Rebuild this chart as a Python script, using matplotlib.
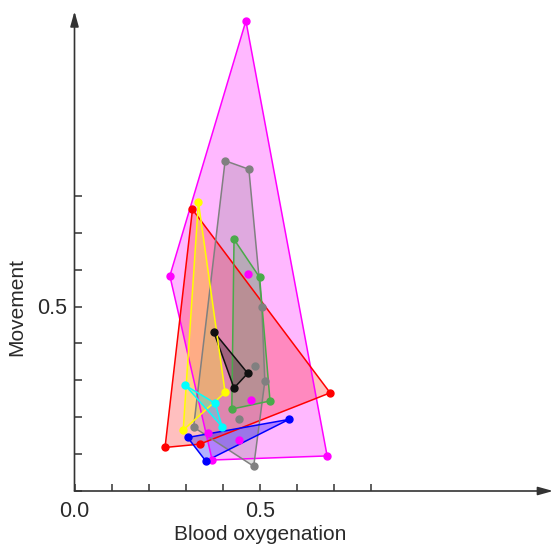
import numpy as np
import matplotlib
matplotlib.use('Agg')
import matplotlib.pyplot as plt
from matplotlib.ticker import FixedLocator, FuncFormatter

plt.rcParams['font.family'] = ['Liberation Sans', 'DejaVu Sans']

# Blood oxygenation (x) and movement (y) per group
magenta_x = [0.462, 0.257, 0.467, 0.476, 0.361, 0.443, 0.371, 0.681]
magenta_y = [1.274, 0.583, 0.588, 0.247, 0.158, 0.138, 0.084, 0.095]

red_x = [0.318, 0.244, 0.689, 0.338]
red_y = [0.763, 0.118, 0.266, 0.127]

grey_x = [0.406, 0.470, 0.505, 0.487, 0.513, 0.443, 0.483, 0.321]
grey_y = [0.895, 0.872, 0.498, 0.340, 0.297, 0.194, 0.067, 0.173]

green_x = [0.430, 0.499, 0.527, 0.424]
green_y = [0.682, 0.579, 0.244, 0.222]

black_x = [0.375, 0.467, 0.430]
black_y = [0.432, 0.319, 0.279]

yellow_x = [0.334, 0.293, 0.406]
yellow_y = [0.783, 0.165, 0.267]

cyan_x = [0.299, 0.379, 0.398]
cyan_y = [0.286, 0.238, 0.174]

blue_x = [0.305, 0.354, 0.578]
blue_y = [0.145, 0.081, 0.194]

groups = [
    (magenta_x, magenta_y, '#ff00ff', 0.28),
    (red_x, red_y, '#ff0000', 0.25),
    (grey_x, grey_y, '#808080', 0.25),
    (green_x, green_y, '#4aaa4a', 0.25),
    (black_x, black_y, '#111111', 0.30),
    (yellow_x, yellow_y, '#ffff00', 0.30),
    (cyan_x, cyan_y, '#00ffff', 0.30),
    (blue_x, blue_y, '#0000ff', 0.30),
]


def convex_hull(pts):
    pts = sorted(set(pts))
    if len(pts) < 3:
        return pts

    def cross(o, a, b):
        return (a[0] - o[0]) * (b[1] - o[1]) - (a[1] - o[1]) * (b[0] - o[0])

    lower, upper = [], []
    for p in pts:
        while len(lower) >= 2 and cross(lower[-2], lower[-1], p) <= 0:
            lower.pop()
        lower.append(p)
    for p in reversed(pts):
        while len(upper) >= 2 and cross(upper[-2], upper[-1], p) <= 0:
            upper.pop()
        upper.append(p)
    return lower[:-1] + upper[:-1]


fig = plt.figure(figsize=(5.55, 5.48), dpi=100)
xmax, ymax = 1.29, 1.30
ax = fig.add_axes([74.5 / 555, 57 / 548, xmax * 371 / 555, ymax * 369 / 548])

for xs, ys, col, a in groups:
    hull = np.array(convex_hull(list(zip(xs, ys))))
    ax.fill(hull[:, 0], hull[:, 1], color=col, alpha=a, lw=0, zorder=1)
    ax.plot(np.append(hull[:, 0], hull[0, 0]), np.append(hull[:, 1], hull[0, 1]),
            color=col, lw=1.1, zorder=2)
    ax.plot(xs, ys, 'o', color=col, ms=5, zorder=3)

ax.set_xlim(0, xmax)
ax.set_ylim(0, ymax)
for s in ax.spines.values():
    s.set_visible(False)

axis_col = '#333333'
arrow = dict(arrowstyle='-|>,head_length=0.9,head_width=0.25', color=axis_col, lw=1.2,
             shrinkA=0, shrinkB=0)
ax.annotate('', xy=(xmax, 0), xytext=(0, 0), arrowprops=arrow, annotation_clip=False)
ax.annotate('', xy=(0, ymax), xytext=(0, 0), arrowprops=arrow, annotation_clip=False)

ticks = [i / 10 for i in range(9)]
ax.xaxis.set_major_locator(FixedLocator(ticks))
ax.yaxis.set_major_locator(FixedLocator(ticks))
ax.xaxis.set_major_formatter(FuncFormatter(lambda v, p: f'{v:.1f}' if v in (0.0, 0.5) else ''))
ax.yaxis.set_major_formatter(FuncFormatter(lambda v, p: '0.5' if v == 0.5 else ''))
ax.tick_params(direction='in', length=5, width=1.1, color=axis_col, labelsize=15.5,
               labelcolor='#2a2a2a')
ax.tick_params(axis='x', pad=7)
ax.tick_params(axis='y', pad=5)

# axis titles sit over the 0.5 mark of each axis
ax.set_xlabel('Blood oxygenation', fontsize=15, color='#2a2a2a', labelpad=6)
ax.set_ylabel('Movement', fontsize=15, color='#2a2a2a', labelpad=6)
ax.xaxis.set_label_coords(0.5 / xmax, -0.07)
ax.yaxis.set_label_coords(-0.1, 0.5 / ymax)

fig.savefig('out.png', dpi=100)
